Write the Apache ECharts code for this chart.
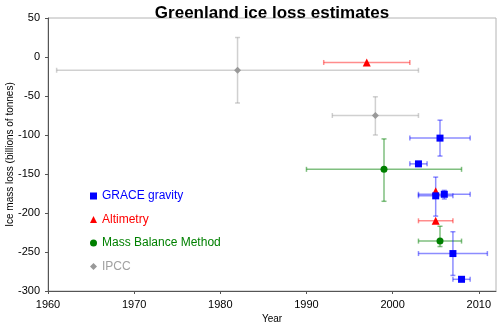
<!DOCTYPE html>
<html>
<head>
<meta charset="utf-8">
<script src="https://cdn.jsdelivr.net/npm/echarts@6/dist/echarts.min.js"></script>
<style>html,body{margin:0;padding:0;background:#fff}#c{width:500px;height:324px}</style>
</head>
<body>
<div id="c"></div>
<script>
// ---- data ----
var graceYear = [2005.5, 2003, 2005, 2006, 2007, 2008];
var graceVal  = [-104, -137, -178, -176, -252, -285];
var graceXLo  = [2002, 2002, 2003, 2003, 2003, 2007];
var graceXHi  = [2009, 2004, 2007, 2009, 2011, 2009];
var graceYLo  = [-127, null, -204, -182, -280, null];
var graceYHi  = [-81, null, -154, -171, -224, null];

var altYear = [1997, 2005, 2005];
var altVal  = [-7, -172, -210];
var altXLo  = [1992, null, 2003];
var altXHi  = [2002, null, 2007];
var altYLo  = [null, null, null];
var altYHi  = [null, null, null];

var mbYear = [1999, 2005.5];
var mbVal  = [-144, -236];
var mbXLo  = [1990, 2003];
var mbXHi  = [2008, 2008];
var mbYLo  = [-185, -243];
var mbYHi  = [-105, -217];

var ipccYear = [1982, 1998];
var ipccVal  = [-17, -75];
var ipccXLo  = [1961, 1993];
var ipccXHi  = [2003, 2003];
var ipccYLo  = [-59, -100];
var ipccYHi  = [25, -51];

var xTicks = {min: 1960, max: 2012, interval: 10};
var yTicks = {min: -300, max: 50, interval: 50};

function rows(yr, v, xl, xh, yl, yh) {
  return yr.map(function (d, i) { return [d, v[i], xl[i], xh[i], yl[i], yh[i]]; });
}
function errSeries(name, data, color) {
  return {
    type: 'custom', name: name + ' err', data: data, z: 1,
    encode: {x: 0, y: 1},
    renderItem: function (params, api) {
      var d = data[params.dataIndex];
      var c = [];
      var st = {stroke: color, lineWidth: 1.5};
      var cap = 2.5;
      if (d[2] != null && d[3] != null) {
        var a = api.coord([d[2], d[1]]), b = api.coord([d[3], d[1]]);
        c.push({type: 'line', shape: {x1: a[0], y1: a[1], x2: b[0], y2: b[1]}, style: st});
        c.push({type: 'line', shape: {x1: a[0], y1: a[1] - cap, x2: a[0], y2: a[1] + cap}, style: st});
        c.push({type: 'line', shape: {x1: b[0], y1: b[1] - cap, x2: b[0], y2: b[1] + cap}, style: st});
      }
      if (d[4] != null && d[5] != null) {
        var p = api.coord([d[0], d[4]]), q = api.coord([d[0], d[5]]);
        c.push({type: 'line', shape: {x1: p[0], y1: p[1], x2: q[0], y2: q[1]}, style: st});
        c.push({type: 'line', shape: {x1: p[0] - cap, y1: p[1], x2: p[0] + cap, y2: p[1]}, style: st});
        c.push({type: 'line', shape: {x1: q[0] - cap, y1: q[1], x2: q[0] + cap, y2: q[1]}, style: st});
      }
      return {type: 'group', children: c};
    }
  };
}
function ptSeries(name, yr, v, symbol, size, color) {
  return {
    type: 'scatter', name: name, symbol: symbol, symbolSize: size, z: 3,
    itemStyle: {color: color, opacity: 1},
    data: yr.map(function (d, i) { return [d, v[i]]; })
  };
}

var grace = rows(graceYear, graceVal, graceXLo, graceXHi, graceYLo, graceYHi);
var alt = rows(altYear, altVal, altXLo, altXHi, altYLo, altYHi);
var mb = rows(mbYear, mbVal, mbXLo, mbXHi, mbYLo, mbYHi);
var ipcc = rows(ipccYear, ipccVal, ipccXLo, ipccXHi, ipccYLo, ipccYHi);

var font = 'Liberation Sans, Arial, sans-serif';
var chart = echarts.init(document.getElementById('c'), null, {renderer: 'canvas'});
chart.setOption({
  animation: false,
  backgroundColor: '#fff',
  textStyle: {fontFamily: font},
  title: {
    text: 'Greenland ice loss estimates', left: 267, textAlign: 'center', top: 0,
    textStyle: {fontSize: 17, fontWeight: 'bold', color: '#000', fontFamily: font}
  },
  grid: {left: 48, right: 4, top: 18, bottom: 33, show: true, borderColor: '#b4b4b4', borderWidth: 1,
         containLabel: false, outerBoundsMode: 'none'},
  legend: {
    orient: 'vertical', left: 90, top: 190, padding: 0, itemWidth: 7, itemHeight: 7, itemGap: 11.5,
    textStyle: {fontSize: 12, fontFamily: font},
    data: [
      {name: 'GRACE gravity', textStyle: {color: '#0000ff'}},
      {name: 'Altimetry', textStyle: {color: '#ff0000'}},
      {name: 'Mass Balance Method', textStyle: {color: '#008000'}},
      {name: 'IPCC', textStyle: {color: '#a0a0a0'}}
    ]
  },
  xAxis: {
    type: 'value', min: xTicks.min, max: xTicks.max, interval: xTicks.interval,
    name: 'Year', nameLocation: 'middle', nameGap: 23, nameMoveOverlap: false,
    nameTextStyle: {fontSize: 10, color: '#000', fontFamily: font},
    axisLine: {onZero: false, lineStyle: {color: '#555', width: 1}},
    axisTick: {show: true, length: 3, lineStyle: {color: '#555'}},
    axisLabel: {fontSize: 11, color: '#000', margin: 8, fontFamily: font,
                formatter: function (v) { return String(v); }},
    splitLine: {show: false}
  },
  yAxis: {
    type: 'value', min: yTicks.min, max: yTicks.max, interval: yTicks.interval,
    name: 'Ice mass loss (billions of tonnes)', nameLocation: 'middle', nameGap: 33, nameRotate: 90,
    nameMoveOverlap: false,
    nameTextStyle: {fontSize: 10, color: '#000', fontFamily: font},
    axisLine: {show: true, onZero: false, lineStyle: {color: '#555', width: 1}},
    axisTick: {show: true, length: 3, lineStyle: {color: '#555'}},
    axisLabel: {fontSize: 11, color: '#000', margin: 8, fontFamily: font,
                formatter: function (v) { return String(v); }},
    splitLine: {show: false}
  },
  series: [
    errSeries('IPCC', ipcc, 'rgba(150,150,150,0.45)'),
    errSeries('Mass Balance Method', mb, 'rgba(0,128,0,0.5)'),
    errSeries('Altimetry', alt, 'rgba(255,0,0,0.45)'),
    errSeries('GRACE gravity', grace, 'rgba(0,0,255,0.45)'),
    ptSeries('IPCC', ipccYear, ipccVal, 'diamond', 7, '#999999'),
    ptSeries('Mass Balance Method', mbYear, mbVal, 'circle', 7, '#008000'),
    ptSeries('Altimetry', altYear, altVal, 'triangle', 8, '#ff0000'),
    ptSeries('GRACE gravity', graceYear, graceVal, 'rect', 7, '#0000ff')
  ]
});
</script>
</body>
</html>
